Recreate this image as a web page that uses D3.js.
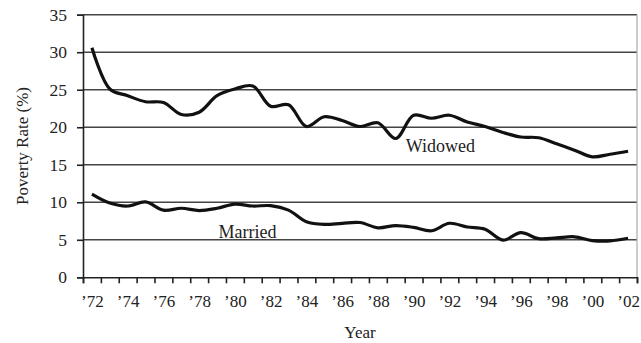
<!DOCTYPE html>
<html><head><meta charset="utf-8">
<script src="https://cdn.jsdelivr.net/npm/d3@7"></script>
<style>
html,body{margin:0;padding:0;background:#fff;}
text{font-family:"Liberation Serif","Times New Roman",serif;fill:#222;}
</style></head>
<body><svg id="c" width="641" height="343"></svg>
<script>
const years = d3.range(1972, 2003);
const widowed = [30.6,25.1,24.2,23.4,23.3,21.7,22.0,24.2,25.1,25.5,22.8,23.0,20.1,21.4,20.9,20.1,20.6,18.5,21.6,21.2,21.6,20.7,20.1,19.3,18.7,18.6,17.8,16.95,16.05,16.4,16.8];
const married = [11.1,9.9,9.5,10.05,8.95,9.2,8.9,9.2,9.75,9.5,9.55,8.95,7.4,7.05,7.2,7.3,6.6,6.9,6.65,6.2,7.2,6.7,6.4,4.95,5.95,5.15,5.25,5.4,4.9,4.85,5.2];
const yTicks = [0,5,10,15,20,25,30,35];
const xLabelYears = d3.range(1972, 2003, 2);
const seriesLabels = [{name:"Widowed", year:1991.5, value:16.7},{name:"Married", year:1980.7, value:5.2}];

const svg = d3.select("#c");
const L = 83, R = 637, T = 14.7, B = 277.3;
const x = d3.scaleLinear().domain([1971.5, 2002.5]).range([L, R]);
const y = d3.scaleLinear().domain([0, 35]).range([B, T]);

// gridlines
svg.append("g").selectAll("line").data(yTicks.filter(d=>d>0)).join("line")
  .attr("x1", L).attr("x2", R).attr("y1", d=>y(d)).attr("y2", d=>y(d))
  .attr("stroke", "#444").attr("stroke-width", 1.5);
// right border
svg.append("line").attr("x1", R).attr("x2", R).attr("y1", T).attr("y2", B)
  .attr("stroke", "#aaa").attr("stroke-width", 1.2);

// y axis
const yAxis = svg.append("g").attr("transform", `translate(${L},0)`)
  .call(d3.axisLeft(y).tickValues(yTicks).tickSize(6).tickPadding(10));
yAxis.select(".domain").attr("stroke", "#222").attr("stroke-width", 1.6);
yAxis.selectAll(".tick line").attr("stroke", "#222").attr("stroke-width", 1.6);
yAxis.selectAll("text").attr("font-size", 17.5).style("font-family", '"Liberation Serif",serif').attr("fill", "#222");

// x axis ticks at boundaries
const bounds = d3.range(1971.5, 2003, 1);
const xAxis = svg.append("g").attr("transform", `translate(0,${B})`)
  .call(d3.axisBottom(x).tickValues(bounds).tickSize(6).tickFormat(""));
xAxis.select(".domain").attr("stroke", "#222").attr("stroke-width", 1.6);
xAxis.selectAll(".tick line").attr("stroke", "#222").attr("stroke-width", 1.6);
// x labels
const xLab = svg.append("g").attr("transform", `translate(0,${B})`)
  .call(d3.axisBottom(x).tickValues(xLabelYears).tickSize(0).tickPadding(18)
    .tickFormat(d => "\u2019" + String(d).slice(2)));
xLab.select(".domain").remove();
xLab.selectAll("text").attr("font-size", 17).style("font-family", '"Liberation Serif",serif').attr("fill", "#222");

// lines
const line = d3.line().x((d,i)=>x(years[i])).y(d=>y(d)).curve(d3.curveCatmullRom.alpha(0.5));
[widowed, married].forEach(s => {
  svg.append("path").datum(s).attr("d", line).attr("fill", "none")
    .attr("stroke", "#111").attr("stroke-width", 3.2).attr("stroke-linejoin", "round");
});

// series labels
svg.append("g").selectAll("text").data(seriesLabels).join("text")
  .attr("x", d=>x(d.year)).attr("y", d=>y(d.value)).attr("text-anchor", "middle")
  .attr("font-size", 18).text(d=>d.name);

// axis titles
svg.append("text").attr("x", (L+R)/2).attr("y", 338).attr("text-anchor", "middle")
  .attr("font-size", 17).text("Year");
svg.append("text").attr("transform", `translate(28,${(T+B)/2}) rotate(-90)`)
  .attr("text-anchor", "middle").attr("font-size", 17).text("Poverty Rate (%)");
</script></body></html>
